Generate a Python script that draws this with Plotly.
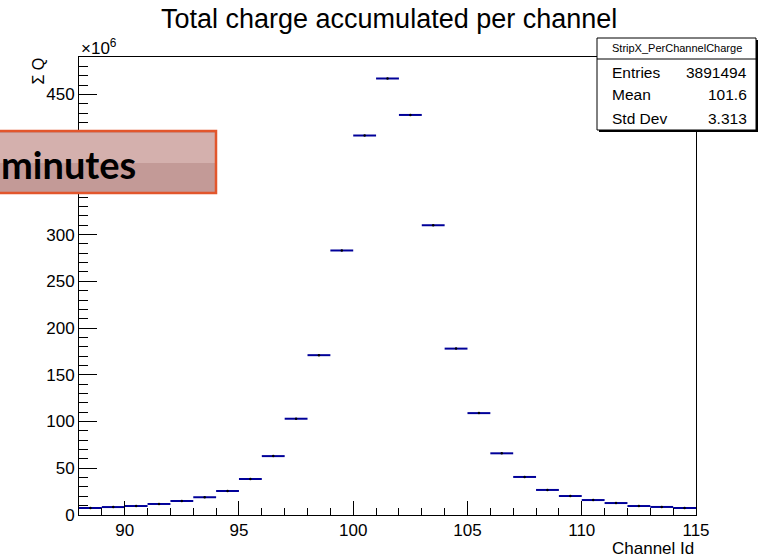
import plotly.graph_objects as go

# ---- data ----
bin_low_edges = list(range(88, 115))
charge_e6 = [7.5, 8.5, 9.6, 11.8, 15, 19, 25.7, 38.5, 63, 103, 171, 283, 406,
             467, 428, 310, 178, 109, 66, 40.7, 26.8, 20.3, 16, 12.8, 9.6, 8.6, 7.5]
bin_width = 1.0
x_ticks = [90, 95, 100, 105, 110, 115]
y_ticks = [0, 50, 100, 150, 200, 250, 300, 350, 400, 450]
stats_labels = ["Entries", "Mean", "Std Dev"]
stats_values = ["3891494", "101.6", "3.313"]
hist_name = "StripX_PerChannelCharge"

W, H = 766, 557
L, R, T, B = 79, 696, 57, 515
pw, ph = R - L, B - T

def px(x):
    return (x - L) / pw

def py(y):
    return (B - y) / ph

centers = [e + bin_width / 2 for e in bin_low_edges]
FONT = "Liberation Sans, Arial, Helvetica, sans-serif"

fig = go.Figure()
fig.add_trace(go.Scatter(
    x=centers, y=charge_e6, mode="markers",
    marker=dict(color="black", size=2.5, symbol="circle"),
    error_x=dict(type="constant", value=bin_width / 2, color="#000099",
                 thickness=2, width=0),
    showlegend=False, hoverinfo="x+y",
))

axis_common = dict(showline=True, linecolor="black", linewidth=1, mirror=True,
                   ticks="inside", tickcolor="black", tickwidth=1,
                   showgrid=False, zeroline=False,
                   tickfont=dict(family=FONT, size=17, color="black"))

fig.update_xaxes(range=[88, 115], tickvals=x_ticks, ticklen=14,
                 minor=dict(dtick=1, tick0=0, ticklen=7, ticks="inside",
                            tickcolor="black", tickwidth=1, showgrid=False),
                 **axis_common)
fig.update_yaxes(range=[0, 490], tickvals=y_ticks, ticklen=18,
                 minor=dict(dtick=10, tick0=0, ticklen=9, ticks="inside",
                            tickcolor="black", tickwidth=1, showgrid=False),
                 **axis_common)

shapes = []
annotations = []

# Title
annotations.append(dict(text="Total charge accumulated per channel", x=px(389), y=py(19),
                        xref="paper", yref="paper", xanchor="center", yanchor="middle",
                        showarrow=False, font=dict(family=FONT, size=27, color="black")))
# x10^6
annotations.append(dict(text="×10<sup>6</sup>", x=px(79), y=py(47),
                        xref="paper", yref="paper", xanchor="left", yanchor="middle",
                        showarrow=False, font=dict(family=FONT, size=17, color="black")))
# y title
annotations.append(dict(text="Σ Q", x=px(38), y=py(56), textangle=-90,
                        xref="paper", yref="paper", xanchor="center", yanchor="top",
                        showarrow=False, font=dict(family=FONT, size=16, color="black")))
# x title
annotations.append(dict(text="Channel Id", x=px(696), y=py(548),
                        xref="paper", yref="paper", xanchor="right", yanchor="middle",
                        showarrow=False, font=dict(family=FONT, size=17, color="black")))

# Stats box
bx0, bx1, by0, by1 = 597, 756, 38, 130
shapes.append(dict(type="rect", xref="paper", yref="paper",
                   x0=px(bx0 + 2), x1=px(bx1 + 2), y0=py(by0 + 2), y1=py(by1 + 2),
                   fillcolor="black", line=dict(width=0), layer="above"))
shapes.append(dict(type="rect", xref="paper", yref="paper",
                   x0=px(bx0), x1=px(bx1), y0=py(by0), y1=py(by1),
                   fillcolor="white", line=dict(color="black", width=1), layer="above"))
shapes.append(dict(type="line", xref="paper", yref="paper",
                   x0=px(bx0), x1=px(bx1), y0=py(59), y1=py(59),
                   line=dict(color="black", width=1), layer="above"))
annotations.append(dict(text=hist_name, x=px((bx0 + bx1) / 2), y=py(48.5),
                        xref="paper", yref="paper", xanchor="center", yanchor="middle",
                        showarrow=False, font=dict(family=FONT, size=11, color="black")))
row_y = [73, 95, 118]
for lab, val, yy in zip(stats_labels, stats_values, row_y):
    annotations.append(dict(text=lab, x=px(610), y=py(yy), xref="paper", yref="paper",
                            xanchor="left", yanchor="middle", showarrow=False,
                            font=dict(family=FONT, size=15.5, color="black")))
    annotations.append(dict(text=val, x=px(749), y=py(yy), xref="paper", yref="paper",
                            xanchor="right", yanchor="middle", showarrow=False,
                            font=dict(family=FONT, size=15.5, color="black")))

# Overlay "minutes" banner
ox0, ox1, oy0, oy1 = -2, 216, 131, 193
shapes.append(dict(type="rect", xref="paper", yref="paper",
                   x0=px(ox0), x1=px(ox1), y0=py(oy0), y1=py(oy1),
                   fillcolor="#c39a97", line=dict(width=0), layer="above"))
shapes.append(dict(type="rect", xref="paper", yref="paper",
                   x0=px(ox0), x1=px(ox1), y0=py(oy0 + 2), y1=py(163),
                   fillcolor="rgba(225,195,192,0.55)", line=dict(width=0), layer="above"))
shapes.append(dict(type="rect", xref="paper", yref="paper",
                   x0=px(ox0), x1=px(ox1), y0=py(oy0), y1=py(oy1),
                   fillcolor="rgba(0,0,0,0)", line=dict(color="#e2562c", width=2.5),
                   layer="above"))
annotations.append(dict(text="<b>minutes</b>", x=px(-1), y=py(164),
                        xref="paper", yref="paper", xanchor="left", yanchor="middle",
                        showarrow=False,
                        font=dict(family="Lato, DejaVu Sans, sans-serif", size=38,
                                  color="black")))

fig.update_layout(width=W, height=H,
                  margin=dict(l=L, r=W - R, t=T, b=H - B, pad=0),
                  plot_bgcolor="white", paper_bgcolor="white",
                  shapes=shapes, annotations=annotations, showlegend=False)

fig.write_html("out.html", config={"displayModeBar": False},
               post_script="document.body.style.margin='0';")
